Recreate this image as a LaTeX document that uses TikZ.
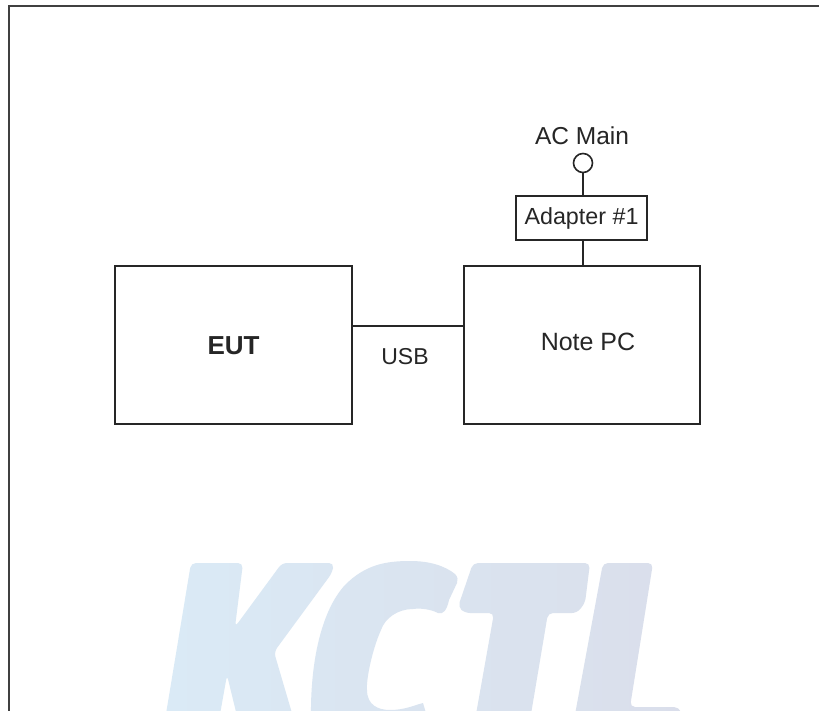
\documentclass[tikz,border=0pt]{standalone}
\usepackage{fontspec}
\setmainfont{Liberation Sans}
\definecolor{kcA}{HTML}{DAEAF6}
\definecolor{kcB}{HTML}{DAE6F2}
\definecolor{kcC}{HTML}{DAE3EF}
\definecolor{kcD}{HTML}{DAE1ED}
\definecolor{kcE}{HTML}{DADEEB}
\begin{document}
\begin{tikzpicture}[x=1pt,y=-1pt,
  box/.style={draw=black!85,line width=2pt,fill=white,inner sep=0pt,outer sep=0pt,anchor=north west},
  wire/.style={draw=black!85,line width=2pt},
  lbl/.style={text=black!85,inner sep=0pt},
  letter/.style={rounded corners=5pt,draw=none}]
\useasboundingbox (0,0) rectangle (819,711);
\clip (0,0) rectangle (819,711);
\fill[white] (0,0) rectangle (819,711);
% watermark
\shade[letter,left color=kcA,right color=kcB] (191,563) -- (243,563) -- (235,627) -- (282,563) -- (334,563) -- (332,573) -- (274,652) -- (294,720) -- (238,720) -- (227,675) -- (219,720) -- (165,720) -- cycle;
\shade[left color=kcB,right color=kcC] (311,720) .. controls (310,660) and (322,610) .. (345,585) .. controls (365,565) and (385,561) .. (410,561) .. controls (430,561) and (445,566) .. (455,574) .. controls (458,577) and (458,580) .. (457,583) -- (449,600) .. controls (447,610) and (443,615) .. (438,613) .. controls (430,609) and (420,608) .. (413,609) .. controls (398,609) and (385,618) .. (381,630) .. controls (372,650) and (366,680) .. (367,690) .. controls (367,705) and (378,710) .. (390,710) .. controls (405,710) and (415,705) .. (423,703) -- (428,720) -- cycle;
\shade[letter,left color=kcC,right color=kcD] (473,563) -- (590,563) -- (585,603) -- (577,613) -- (548,613) -- (530,720) -- (475,720) -- (494,613) -- (465,613) -- (458,607) -- cycle;
\shade[letter,left color=kcD,right color=kcE] (603,563) -- (653,563) -- (630,707) -- (679,707) -- (684,720) -- (574,720) -- cycle;
% frame
\coordinate (fbl) at (9,711);
\coordinate (ftl) at (9,6);
\coordinate (ftr) at (819,6);
\draw[draw=black!75,line width=2pt] (fbl) -- (ftl) -- (ftr);
% boxes
\node[box,minimum width=237pt,minimum height=158pt] (eut) at (115,266) {};
\node[font=\fontsize{26}{28}\selectfont\bfseries,text=black!85,inner sep=0pt] (eutl) at (233.5,346) {EUT};
\node[box,minimum width=236pt,minimum height=158pt] (pc) at (464,266) {};
\node[lbl,font=\fontsize{25}{28}\selectfont] (pcl) at (588,342) {Note PC};
\node[box,lbl,font=\fontsize{23.3}{26}\selectfont,minimum width=131pt,minimum height=44pt] (ad) at (516,196) {Adapter \#1};
\node[draw=black!85,line width=1.6pt,circle,minimum size=19pt,inner sep=0pt,outer sep=0pt] (ac) at (583,163) {};
\node[lbl,font=\fontsize{24.5}{28}\selectfont] (acl) at (582,136) {AC Main};
\node[lbl,font=\fontsize{23}{26}\selectfont] (usb) at (405,357) {USB};
% wires
\coordinate (a1) at (eut.east |- 0,326);
\draw[wire] (a1) -- (pc.west |- a1);
\draw[wire] (ac) -- (ac |- ad.north);
\draw[wire] (ac |- ad.south) -- (ac |- pc.north);
\end{tikzpicture}
\end{document}
